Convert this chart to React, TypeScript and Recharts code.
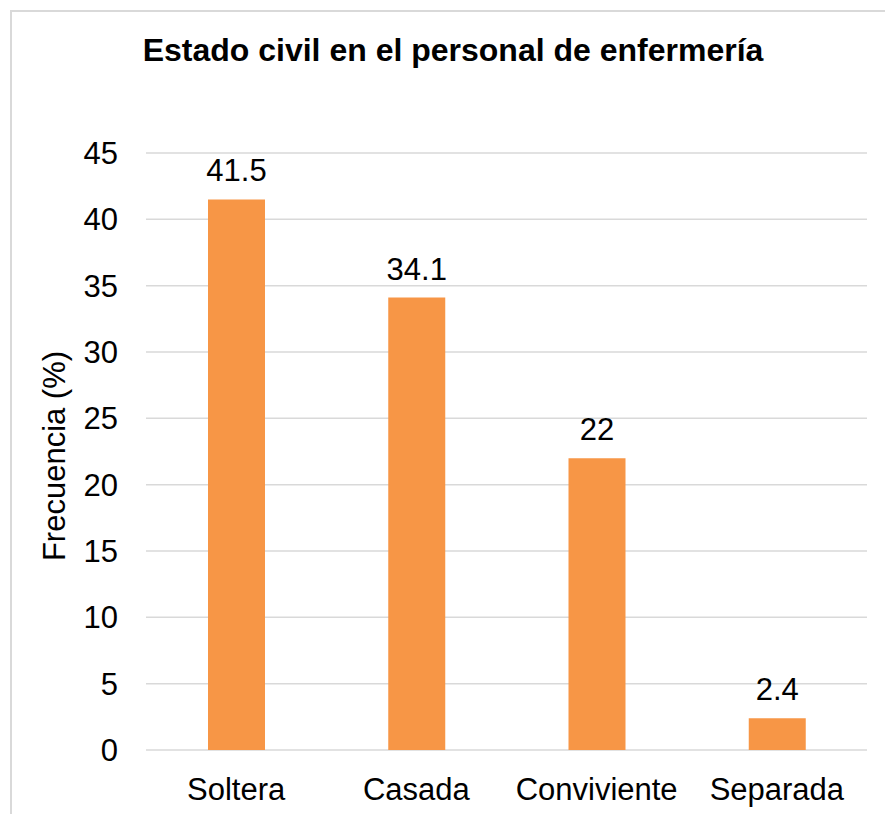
import { Bar, BarChart, CartesianGrid, LabelList, XAxis, YAxis } from "recharts";

const categories = ["Soltera", "Casada", "Conviviente", "Separada"];
const frecuencia = [41.5, 34.1, 22, 2.4];
const yTicks = [0, 5, 10, 15, 20, 25, 30, 35, 40, 45];

const data = categories.map((estado, i) => ({ estado, frecuencia: frecuencia[i] }));

const font = "'Liberation Sans', Arial, sans-serif";

function YLabel() {
  return (
    <text
      x={65}
      y={456}
      transform="rotate(-90, 65, 456)"
      textAnchor="middle"
      fontSize={31}
      fontFamily={font}
      fill="#000"
    >
      Frecuencia (%)
    </text>
  );
}

export default function App() {
  return (
    <div style={{ position: "relative", width: 885, height: 814, overflow: "hidden", fontFamily: font }}>
      <style>{"body{margin:0}"}</style>
      <div
        style={{
          position: "absolute",
          left: 10,
          top: 10,
          width: 900,
          height: 900,
          borderLeft: "2px solid #d9d9d9",
          borderTop: "2px solid #d9d9d9",
        }}
      />
      <div
        style={{
          position: "absolute",
          left: 0,
          top: 34,
          width: 906,
          textAlign: "center",
          fontSize: 32,
          lineHeight: "32px",
          fontWeight: "bold",
          color: "#000",
        }}
      >
        Estado civil en el personal de enfermería
      </div>
      <div style={{ position: "absolute", left: 0, top: 0 }}>
        <BarChart width={885} height={814} data={data} margin={{ top: 153, right: 18, bottom: 0, left: 0 }}>
          <CartesianGrid stroke="#d9d9d9" strokeWidth={1.5} vertical={false} />
          <XAxis
            dataKey="estado"
            height={64}
            axisLine={false}
            tickLine={false}
            tickSize={0}
            tickMargin={28}
            tick={{ fill: "#000", fontSize: 31, fontFamily: font }}
          />
          <YAxis
            width={146}
            domain={[0, 45]}
            ticks={yTicks}
            axisLine={false}
            tickLine={false}
            tickSize={0}
            tickMargin={28}
            tick={{ fill: "#000", fontSize: 31, fontFamily: font }}
            label={<YLabel />}
          />
          <Bar dataKey="frecuencia" fill="#F79646" barSize={57} isAnimationActive={false}>
            <LabelList dataKey="frecuencia" position="top" offset={18} fill="#000" fontSize={31} fontFamily={font} />
          </Bar>
        </BarChart>
      </div>
    </div>
  );
}
